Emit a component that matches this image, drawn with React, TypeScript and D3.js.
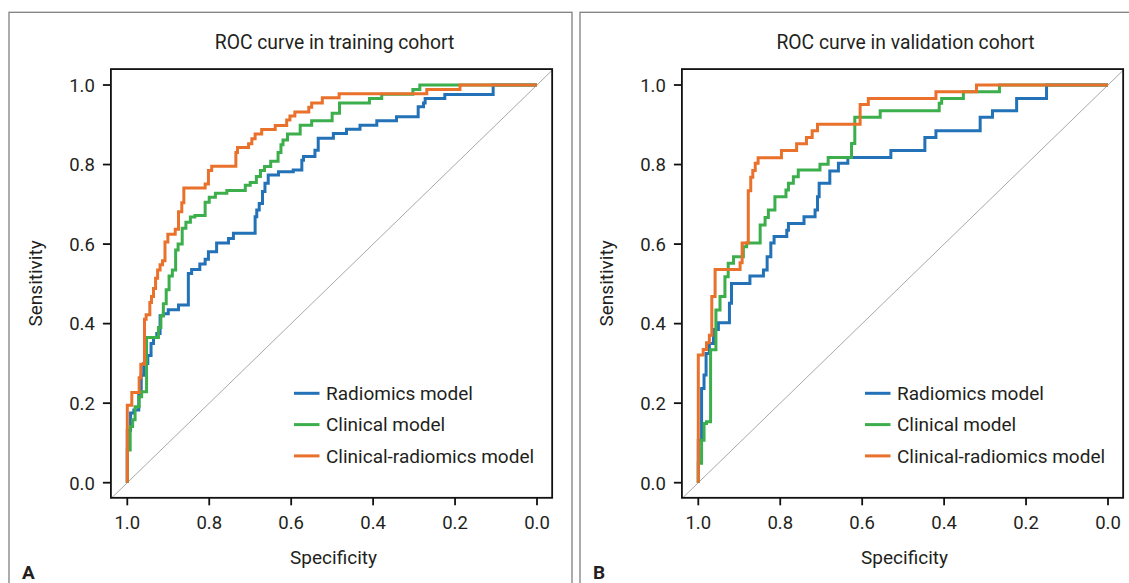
import React from 'react';
import * as d3 from 'd3';

const seriesNames = ['Radiomics model', 'Clinical model', 'Clinical-radiomics model'];
const seriesColors = ['#2371b7', '#3dae4c', '#e9712b'];
const panelTitles = ['ROC curve in training cohort', 'ROC curve in validation cohort'];
const panelLetters = ['A', 'B'];
const tickValues = [1.0, 0.8, 0.6, 0.4, 0.2, 0.0];

// points are [specificity, sensitivity], drawn as steps (rise first, then move left)
const trainingRadiomics = [
  [1, 0], [0.992, 0.132], [0.984, 0.175], [0.972, 0.183], [0.966, 0.225], [0.96, 0.27], [0.95, 0.3],
  [0.942, 0.32], [0.936, 0.35], [0.928, 0.365], [0.92, 0.375], [0.912, 0.42], [0.9, 0.425], [0.875, 0.435],
  [0.851, 0.447], [0.843, 0.526], [0.823, 0.536], [0.81, 0.55], [0.802, 0.562], [0.782, 0.581], [0.753, 0.603],
  [0.741, 0.614], [0.688, 0.627], [0.684, 0.669], [0.678, 0.686], [0.67, 0.702], [0.664, 0.732], [0.656, 0.753],
  [0.631, 0.774], [0.595, 0.782], [0.574, 0.786], [0.57, 0.811], [0.542, 0.82], [0.534, 0.836], [0.497, 0.866],
  [0.465, 0.878], [0.432, 0.889], [0.391, 0.899], [0.343, 0.91], [0.29, 0.92], [0.277, 0.945], [0.273, 0.955],
  [0.225, 0.966], [0.107, 0.976], [0, 1],
];
const trainingClinical = [
  [1, 0], [0.993, 0.082], [0.987, 0.141], [0.981, 0.158], [0.971, 0.191], [0.965, 0.216], [0.953, 0.229],
  [0.924, 0.365], [0.918, 0.39], [0.912, 0.42], [0.905, 0.45], [0.898, 0.485], [0.89, 0.52], [0.882, 0.535],
  [0.876, 0.585], [0.866, 0.6], [0.857, 0.64], [0.846, 0.655], [0.835, 0.668], [0.81, 0.672], [0.8, 0.705],
  [0.785, 0.718], [0.757, 0.728], [0.712, 0.735], [0.7, 0.748], [0.685, 0.755], [0.675, 0.77], [0.665, 0.785],
  [0.65, 0.795], [0.632, 0.808], [0.625, 0.83], [0.62, 0.85], [0.609, 0.862], [0.578, 0.877], [0.55, 0.899],
  [0.5, 0.91], [0.482, 0.929], [0.409, 0.955], [0.379, 0.966], [0.303, 0.977], [0.286, 0.989], [0, 1],
];
const trainingCombined = [
  [1, 0], [0.989, 0.195], [0.971, 0.227], [0.967, 0.264], [0.958, 0.298], [0.954, 0.411], [0.945, 0.422],
  [0.941, 0.453], [0.936, 0.468], [0.931, 0.488], [0.926, 0.514], [0.92, 0.535], [0.914, 0.548], [0.908, 0.558],
  [0.901, 0.605], [0.883, 0.625], [0.875, 0.637], [0.867, 0.681], [0.862, 0.704], [0.81, 0.741], [0.802, 0.751],
  [0.794, 0.785], [0.735, 0.796], [0.731, 0.83], [0.704, 0.843], [0.696, 0.852], [0.688, 0.865], [0.672, 0.877],
  [0.639, 0.888], [0.611, 0.898], [0.603, 0.912], [0.591, 0.922], [0.557, 0.932], [0.55, 0.944], [0.524, 0.955],
  [0.483, 0.968], [0.269, 0.978], [0.188, 0.989], [0, 1],
];
const validationRadiomics = [
  [1, 0], [0.992, 0.107], [0.986, 0.237], [0.981, 0.271], [0.973, 0.325], [0.963, 0.35], [0.951, 0.385],
  [0.924, 0.402], [0.919, 0.451], [0.874, 0.501], [0.841, 0.52], [0.832, 0.535], [0.823, 0.568], [0.815, 0.603],
  [0.784, 0.619], [0.78, 0.635], [0.742, 0.652], [0.715, 0.669], [0.709, 0.686], [0.705, 0.719], [0.679, 0.753],
  [0.658, 0.784], [0.635, 0.803], [0.53, 0.818], [0.447, 0.835], [0.42, 0.868], [0.312, 0.885], [0.282, 0.919],
  [0.223, 0.935], [0.15, 0.966], [0, 1],
];
const validationClinical = [
  [1, 0], [0.992, 0.049], [0.986, 0.107], [0.98, 0.149], [0.97, 0.153], [0.957, 0.334], [0.947, 0.434],
  [0.935, 0.468], [0.927, 0.518], [0.914, 0.552], [0.89, 0.568], [0.882, 0.593], [0.849, 0.603], [0.837, 0.648],
  [0.829, 0.667], [0.813, 0.686], [0.786, 0.719], [0.78, 0.736], [0.768, 0.753], [0.756, 0.769], [0.703, 0.786],
  [0.683, 0.801], [0.626, 0.818], [0.618, 0.853], [0.556, 0.919], [0.412, 0.935], [0.406, 0.954], [0.353, 0.966],
  [0.265, 0.983], [0, 1],
];
const validationCombined = [
  [1, 0], [0.988, 0.321], [0.98, 0.335], [0.973, 0.352], [0.967, 0.371], [0.959, 0.468], [0.898, 0.536],
  [0.893, 0.553], [0.878, 0.603], [0.872, 0.734], [0.867, 0.768], [0.861, 0.785], [0.854, 0.803], [0.797, 0.817],
  [0.76, 0.835], [0.736, 0.852], [0.722, 0.868], [0.709, 0.885], [0.605, 0.901], [0.585, 0.951], [0.42, 0.966],
  [0.321, 0.983], [0, 1],
];

const panelCurves = [
  [trainingRadiomics, trainingClinical, trainingCombined],
  [validationRadiomics, validationClinical, validationCombined],
];

const W = 1129;
const H = 583;
const PANEL_DX = 571;
const FONT = 'Roboto, sans-serif';
const INK = '#231f20';

const Panel = ({ dx, title, letter, curves }) => {
  const x = d3.scaleLinear().domain([1, 0]).range([127.3, 537]);
  const y = d3.scaleLinear().domain([0, 1]).range([482.7, 85]);
  const box = { left: x(1.04), right: x(-0.037), top: y(1.04), bottom: y(-0.038) };
  const line = d3.line<number[]>()
    .x(d => x(d[0]))
    .y(d => y(d[1]))
    .curve(d3.curveStepBefore);
  const diag = d3.line<number[]>().x(d => x(d[0])).y(d => y(d[1]));
  const midX = (box.left + box.right) / 2;
  const midY = (box.top + box.bottom) / 2;

  return (
    <g transform={`translate(${dx},0)`}>
      <rect x={9} y={12.3} width={563} height={H} fill="none" stroke="#808080" strokeWidth={1.3} />
      <text x={midX + 3} y={49} textAnchor="middle" fontSize={19.3} fill={INK}>{title}</text>

      <path d={diag([[1.04, -0.04], [-0.037, 1.037]])} stroke="#a8a8a8" strokeWidth={1} fill="none" />
      {curves.map((c, i) => (
        <path key={i} d={line(c)} fill="none" stroke={seriesColors[i]} strokeWidth={3} />
      ))}
      <rect x={box.left} y={box.top} width={box.right - box.left} height={box.bottom - box.top}
        fill="none" stroke="#111" strokeWidth={1.8} />

      {tickValues.map(t => (
        <g key={'y' + t}>
          <line x1={box.left - 8} x2={box.left} y1={y(t)} y2={y(t)} stroke="#111" strokeWidth={1.8} />
          <text x={box.left - 16} y={y(t) + 6.8} textAnchor="end" fontSize={18.5} fill={INK}>{t.toFixed(1)}</text>
        </g>
      ))}
      {tickValues.map(t => (
        <g key={'x' + t}>
          <line x1={x(t)} x2={x(t)} y1={box.bottom} y2={box.bottom + 7.5} stroke="#111" strokeWidth={1.8} />
          <text x={x(t)} y={528.5} textAnchor="middle" fontSize={18.5} fill={INK}>{t.toFixed(1)}</text>
        </g>
      ))}

      <text transform={`translate(42,${midY}) rotate(-90)`} textAnchor="middle" fontSize={19} fill={INK}>Sensitivity</text>
      <text x={midX + 2} y={564} textAnchor="middle" fontSize={19} fill={INK}>Specificity</text>
      <text x={22} y={578.5} fontSize={19} fontWeight="bold" fill={INK}>{letter}</text>

      {seriesNames.map((name, i) => {
        const ly = 393.3 + i * 31.3;
        return (
          <g key={name}>
            <line x1={294} x2={319.5} y1={ly} y2={ly} stroke={seriesColors[i]} strokeWidth={3} />
            <text x={326} y={ly + 6.6} fontSize={19} fill={INK}>{name}</text>
          </g>
        );
      })}
    </g>
  );
};

export default function App() {
  return (
    <svg width={W} height={H} style={{ position: 'absolute', left: 0, top: 0, background: '#fff' }}
      fontFamily={FONT}>
      <rect width={W} height={H} fill="#fff" />
      {panelTitles.map((t, i) => (
        <Panel key={t} dx={i * PANEL_DX} title={t} letter={panelLetters[i]} curves={panelCurves[i]} />
      ))}
    </svg>
  );
}
